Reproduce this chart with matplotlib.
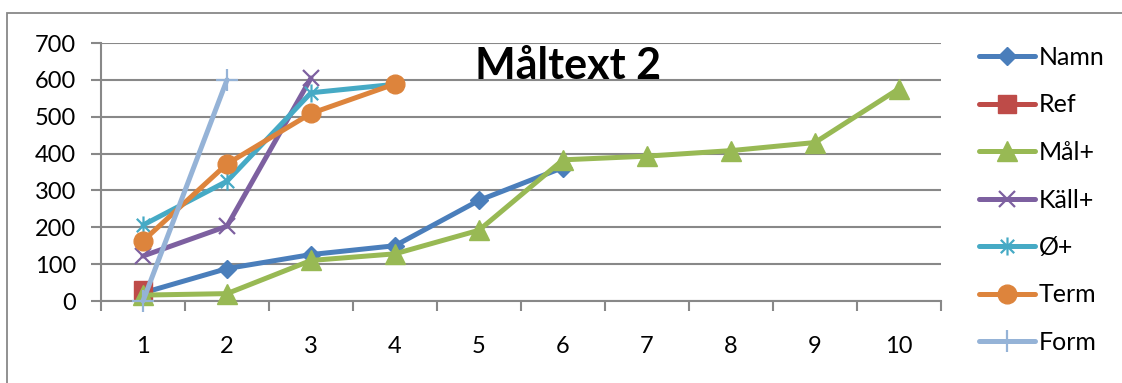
import matplotlib
matplotlib.use("Agg")
import matplotlib.pyplot as plt
from matplotlib.path import Path
from matplotlib.patches import Rectangle

plt.rcParams['font.family'] = ['Lato', 'DejaVu Sans']

# Category positions along the x axis
categories = [1, 2, 3, 4, 5, 6, 7, 8, 9, 10]

namn = [22, 88, 126, 150, 273, 362]
ref = [30]
mal_plus = [16, 20, 110, 128, 192, 383, 393, 408, 430, 576]
kall_plus = [122, 203, 605]
oe_plus = [206, 325, 565, 588]
term = [163, 372, 509, 589]
form = [0, 600]

series_names = ["Namn", "Ref", "Mål+", "Käll+", "Ø+", "Term", "Form"]
y_ticks = [0, 100, 200, 300, 400, 500, 600, 700]
chart_title = "Måltext 2"

# asterisk marker: an x crossed by a vertical stroke
asterisk = Path(
    [(-1, -1), (1, 1), (-1, 1), (1, -1), (0, -1.35), (0, 1.35)],
    [Path.MOVETO, Path.LINETO, Path.MOVETO, Path.LINETO, Path.MOVETO, Path.LINETO],
)

grey = "#888888"
W, H = 1122, 383
fig = plt.figure(figsize=(W / 100, H / 100), dpi=100)
fig.patch.set_facecolor("white")

# outer chart frame (left and top edges visible)
fig.patches.append(Rectangle((7 / W, -0.2), 1.5, 1 - 13 / H + 0.2, transform=fig.transFigure,
                             fill=False, edgecolor=grey, linewidth=1.3, clip_on=False))

left, right = 101 / W, 941 / W
bottom, top = 1 - 301 / H, 1 - 43 / H
ax = fig.add_axes([left, bottom, right - left, top - bottom])
ax.set_xlim(0.5, 10.5)
ax.set_ylim(0, 700)

lw = 3.6
styles = [
    (namn, dict(color="#4a7ebb", marker="D", markersize=9)),
    (ref, dict(color="#be4b48", marker="s", markersize=13.5)),
    (mal_plus, dict(color="#98b954", marker="^", markersize=14)),
    (kall_plus, dict(color="#7d60a0", marker="x", markersize=12, markeredgewidth=1.6)),
    (oe_plus, dict(color="#46aac5", marker=asterisk, markersize=13, markeredgewidth=1.6)),
    (term, dict(color="#dd843c", marker="o", markersize=13.5)),
    (form, dict(color="#95b3d7", marker="+", markersize=16, markeredgewidth=1.6)),
]
handles = []
for (vals, st), name in zip(styles, series_names):
    h, = ax.plot(categories[:len(vals)], vals, linewidth=lw, label=name,
                 solid_capstyle="round", solid_joinstyle="round",
                 clip_on=False, zorder=3, **st)
    handles.append(h)

# grid and axes
ax.set_yticks(y_ticks)
ax.yaxis.grid(True, color=grey, linewidth=1.5)
ax.set_axisbelow(True)
for side in ["top", "right"]:
    ax.spines[side].set_visible(False)
for side in ["left", "bottom"]:
    ax.spines[side].set_color(grey)
    ax.spines[side].set_linewidth(1.5)

ax.set_xticks(categories)
ax.set_xticks([c + 0.5 for c in [0] + categories], minor=True)
ax.tick_params(axis="x", which="major", length=0, pad=25, labelsize=17)
ax.tick_params(axis="x", which="minor", length=7, width=1.5, color=grey, direction="out")
ax.tick_params(axis="y", length=7, width=1.5, color=grey, pad=11, labelsize=17)

fig.text(568 / W, 1 - 79 / H, chart_title, ha="center", va="baseline",
         fontsize=31, fontweight="bold")

fig.legend(handles=handles, loc="upper left", bbox_to_anchor=(979 / W, 1 - 46 / H),
           frameon=False, fontsize=18, handlelength=2.25, handletextpad=0.15,
           labelspacing=0.98, borderaxespad=0, borderpad=0)

fig.savefig("out.png", dpi=100, facecolor="white")
